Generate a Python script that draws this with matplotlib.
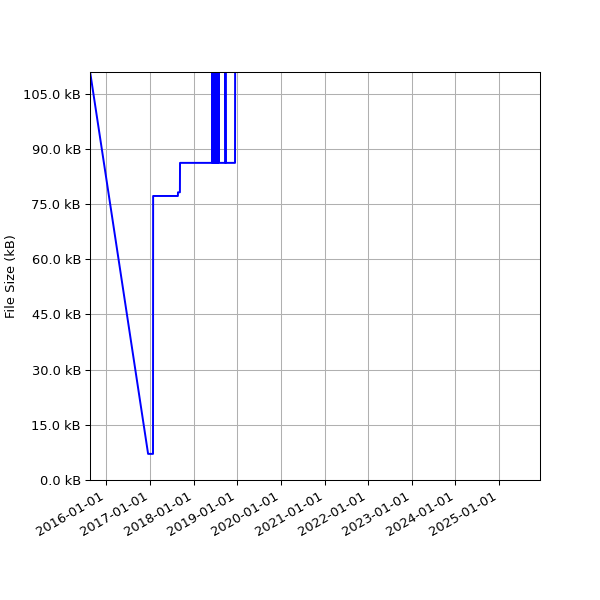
import numpy as np
import pandas as pd
import matplotlib
matplotlib.use('Agg')
import matplotlib.pyplot as plt
import matplotlib.dates as mdates
from matplotlib.ticker import MultipleLocator, FuncFormatter

# file size history (kB)
dates = ["2015-06-01", "2016-12-17", "2017-01-27", "2017-01-28",
         "2017-08-23", "2017-08-24", "2017-09-09", "2017-09-10",
         "2018-06-05", "2018-06-07", "2018-06-10", "2018-06-13",
         "2018-06-17", "2018-06-20", "2018-06-24", "2018-06-28",
         "2018-07-02", "2018-07-06", "2018-07-10", "2018-07-14",
         "2018-07-18", "2018-07-22", "2018-07-26", "2018-07-30",
         "2018-08-02", "2018-09-24", "2018-09-25", "2018-09-27",
         "2018-12-14", "2018-12-15"]
sizes = [128.0, 7.1, 7.1, 77.2,
         77.2, 78.2, 78.2, 86.2,
         86.2, 118.0, 86.2, 118.0,
         86.2, 118.0, 86.2, 118.0,
         86.2, 118.0, 86.2, 118.0,
         86.2, 118.0, 86.2, 118.0,
         86.2, 86.2, 118.0, 86.2,
         86.2, 118.0]

x_range = ["2015-08-19", "2025-12-08"]
y_range = [0, 110.9]

dates = pd.to_datetime(dates)

fig = plt.figure(figsize=(6.4, 6.4), dpi=93.75)
ax = fig.subplots(1)
ax.plot(dates, sizes, color='b', linewidth=1.5)

ax.set_xlim(pd.to_datetime(x_range[0]), pd.to_datetime(x_range[1]))
ax.set_ylim(*y_range)
ax.yaxis.set_major_locator(MultipleLocator(15))
ax.yaxis.set_major_formatter(FuncFormatter(lambda v, p: '{:.1f} kB'.format(v)))
ax.xaxis.set_major_locator(mdates.YearLocator())
ax.xaxis.set_major_formatter(mdates.DateFormatter('%Y-%m-%d'))
ax.set_ylabel('File Size (kB)')
ax.grid(True)

fig.autofmt_xdate()
fig.subplots_adjust(left=0.15, right=0.9, top=0.88, bottom=0.2)
fig.savefig('out.png', dpi=93.75)
